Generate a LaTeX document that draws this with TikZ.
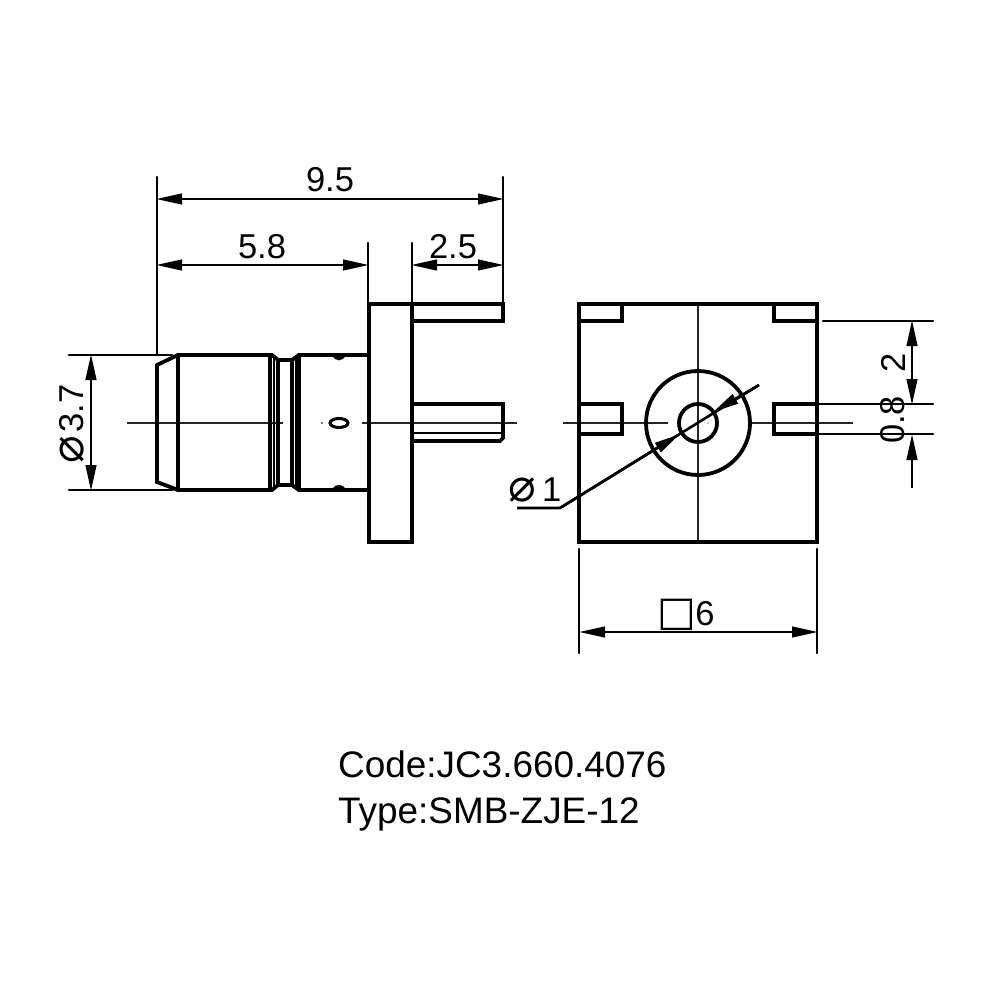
\documentclass[tikz,border=0pt]{standalone}
\usepackage{fontspec}
\setmainfont{Liberation Sans}
\newfontfamily\symfont{DejaVu Sans}
\usetikzlibrary{arrows.meta}
\tikzset{
  x=1pt,y=-1pt,
  obj/.style={line width=3.8pt,line join=miter,line cap=round},
  thin line/.style={line width=2.6pt,line cap=round},
  tiphead/.tip={Triangle[length=26pt,width=10.5pt]},
  dimline/.style={line width=2.6pt,tiphead-tiphead,shorten <=-1pt,shorten >=-1pt},
  center line/.style={line width=1.1pt,black!85},
  dimtext/.style={font=\fontsize{34.5}{34.5}\selectfont,inner sep=0pt},
  codetext/.style={font=\fontsize{36.9}{40}\selectfont,inner sep=0pt,anchor=base west}
}
\begin{document}
\begin{tikzpicture}
\useasboundingbox (0,0) rectangle (1000,1000);
% named coordinates
\coordinate (eL) at (157,199); \coordinate (eR) at (503,199);
\coordinate (mL) at (157,265); \coordinate (mF) at (368,265);
\coordinate (rF) at (412,265); \coordinate (rR) at (503,265);
\coordinate (dT) at (91,355); \coordinate (dB) at (91,490);
\coordinate (sL) at (580,632); \coordinate (sR) at (817,632);
\coordinate (vA) at (912,321); \coordinate (vB) at (912,404);
\coordinate (vC) at (912,434); \coordinate (vD) at (912,488);
\coordinate (l0) at (517,508); \coordinate (l1) at (560,508);
\coordinate (l2) at (759,385);
\coordinate (t1) at (680,434); \coordinate (t2) at (713,412);
% centre lines
\draw[center line] (127,423) -- (283,423);
\draw[center line] (362,423) -- (517,423);
\draw[center line] (563,423) -- (668,423);
\draw[center line] (752,423) -- (853,423);
\draw[center line] (698,304) -- (698,541);
% left view
\draw[obj] (178,355) -- (157,365) -- (157,482) -- (178,490);
\draw[obj] (178,355) -- (178,490);
\draw[obj] (178,355) -- (272,355) -- (278,360) -- (292,360) -- (299,355) -- (369,355);
\draw[obj] (178,490) -- (272,490) -- (278,485) -- (292,485) -- (299,490) -- (369,490);
\draw[obj] (270,355) -- (270,490);
\draw[line width=2pt] (274,358) -- (274,487);
\draw[obj] (278,360) -- (278,485);
\draw[obj] (292,360) -- (292,485);
\draw[line width=2pt] (296,358) -- (296,487);
\draw[obj] (299,355) -- (299,490);
\fill (332,355) .. controls (335,362) and (343,362) .. (346,355) -- cycle;
\fill (332,490) .. controls (335,483) and (343,483) .. (346,490) -- cycle;
\draw[line width=3pt] (339,423) ellipse [x radius=9pt,y radius=4.5pt];
\fill (322,423) circle (.9);
\draw[obj] (369,304) rectangle (412,542);
\draw[obj] (412,304) -- (503,304) -- (503,321) -- (412,321);
\draw[obj] (412,404) -- (503,404) -- (503,438) -- (500,441) -- (412,441);
\draw[line width=2.2pt] (412,433) -- (503,433);
% right view
\draw[obj] (579,304) rectangle (817,542);
\draw[obj] (579,321) -- (622,321) -- (622,304);
\draw[obj] (817,321) -- (774,321) -- (774,304);
\draw[obj] (579,404) rectangle (622,434);
\draw[obj] (817,404) rectangle (774,434);
\draw[obj] (698,423) circle (52);
\draw[obj] (698,423) circle (19);
\fill (708,423) circle (.7);
% extension lines
\draw[thin line] (157,177) -- (157,355);
\draw[thin line] (503,177) -- (503,304);
\draw[thin line] (368,243) -- (368,304);
\draw[thin line] (412,243) -- (412,304);
\draw[thin line] (69,355) -- (172,355);
\draw[thin line] (69,490) -- (172,490);
\draw[thin line] (823,321) -- (933,321);
\draw[thin line] (817,404) -- (933,404);
\draw[thin line] (817,434) -- (933,434);
\draw[thin line] (579,549) -- (579,653);
\draw[thin line] (817,549) -- (817,653);
% dimensions
\draw[dimline] (eL) -- (eR);
\draw[dimline] (mL) -- (mF);
\draw[dimline] (rF) -- (rR);
\draw[dimline] (dT) -- (dB);
\draw[dimline] (sL) -- (sR);
\draw[dimline] (vA) -- (vB);
\draw[line width=2.6pt,tiphead-] (vC) -- (vD);
\draw[line width=2.6pt] (l0) -- (l1) -- (l2);
\draw[line width=2.6pt,-tiphead] (l1) -- (t1);
\draw[line width=2.6pt,-tiphead] (l2) -- (t2);
% texts
\node[dimtext] (n95) at (330,180) {9.5};
\node[dimtext] (n58) at (262,247) {5.8};
\node[dimtext] (n25) at (453,247) {2.5};
\node[dimtext,rotate=90] (n37) at (72,424) {{\symfont\fontsize{46}{46}\selectfont ⌀}\kern3pt 3.7};
\node[dimtext,rotate=90] (n2) at (893,363) {2};
\node[dimtext,rotate=90] (n08) at (893,420) {0.8};
\node[dimtext] (n1) at (535,490) {{\symfont\fontsize{46}{46}\selectfont ⌀}\,1};
\node[dimtext] (n6) at (686,614.5) {{\symfont\fontsize{41}{41}\selectfont □}\kern-1pt 6};
\node[codetext] (code) at (338,777) {Code:JC3.660.4076};
\node[codetext] (type) at (338,823) {Type:SMB-ZJE-12};
\end{tikzpicture}
\end{document}
